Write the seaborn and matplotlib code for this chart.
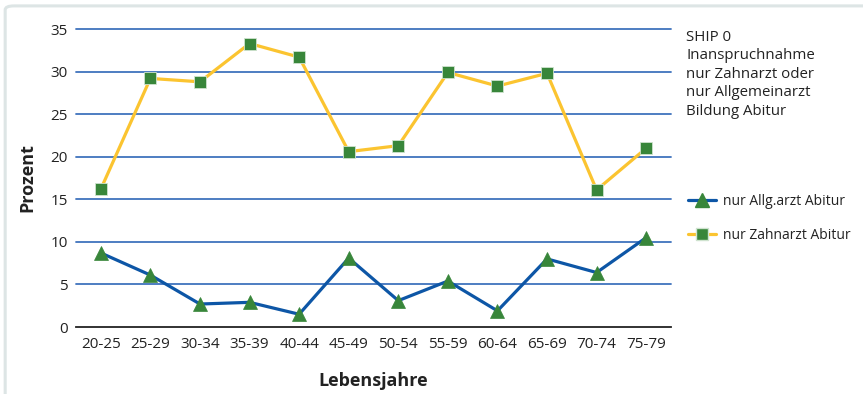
import matplotlib
matplotlib.use("Agg")
import matplotlib.pyplot as plt
import seaborn as sns
import pandas as pd
from matplotlib.lines import Line2D
from matplotlib.patches import FancyBboxPatch
from matplotlib.ticker import FixedLocator

age_groups = ["20-25", "25-29", "30-34", "35-39", "40-44", "45-49",
              "50-54", "55-59", "60-64", "65-69", "70-74", "75-79"]
allg_abitur = [8.7, 6.1, 2.7, 2.9, 1.5, 8.1, 3.1, 5.4, 1.9, 8.0, 6.4, 10.5]
zahn_abitur = [16.2, 29.2, 28.8, 33.3, 31.7, 20.6, 21.3, 29.9, 28.3, 29.8, 16.1, 21.0]
y_ticks = [0, 5, 10, 15, 20, 25, 30, 35]

sns.set_style("white")
plt.rcParams["font.family"] = ["Open Sans", "DejaVu Sans"]

BLUE = "#0d56a6"
YELLOW = "#fbc430"
GREEN = "#38863a"
GRID = "#3f73bd"
TEXT = "#222222"

fig = plt.figure(figsize=(8.63, 3.94), dpi=100)
ax = fig.add_axes([0.0881, 0.170, 0.6894, 0.7563])

df = pd.DataFrame({"age": list(range(len(age_groups))) * 2,
                   "value": allg_abitur + zahn_abitur,
                   "series": ["nur Allg.arzt Abitur"] * 12 + ["nur Zahnarzt Abitur"] * 12})

sns.lineplot(data=df[df.series == "nur Allg.arzt Abitur"], x="age", y="value",
             color=BLUE, linewidth=2.3, marker="^", markersize=9.5,
             markerfacecolor=GREEN, markeredgecolor=GREEN, markeredgewidth=0.5,
             ax=ax, legend=False, zorder=4)
sns.lineplot(data=df[df.series == "nur Zahnarzt Abitur"], x="age", y="value",
             color=YELLOW, linewidth=2.3, marker="s", markersize=9,
             markerfacecolor=GREEN, markeredgecolor="#cfe3cf", markeredgewidth=0.6,
             ax=ax, legend=False, zorder=4)

ax.set_xlim(-0.5, len(age_groups) - 0.5)
ax.set_ylim(0, 35)
ax.set_yticks(y_ticks)
ax.set_xticks(range(len(age_groups)))
ax.set_xticklabels(age_groups)
ax.xaxis.set_minor_locator(FixedLocator([i - 0.5 for i in range(len(age_groups) + 1)]))

for v in y_ticks[1:]:
    ax.axhline(v, color=GRID, linewidth=1.3, zorder=1, clip_on=False)

for s in ["top", "right", "left"]:
    ax.spines[s].set_visible(False)
ax.spines["bottom"].set_color("#222222")
ax.spines["bottom"].set_linewidth(1.3)

ax.tick_params(axis="x", which="major", length=0, pad=7, labelsize=11, labelcolor=TEXT)
ax.tick_params(axis="x", which="minor", length=5, width=1.2, color="#222222", direction="out")
ax.tick_params(axis="y", length=0, pad=6, labelsize=11, labelcolor=TEXT)

ax.set_xlabel("Lebensjahre", fontsize=13, fontweight="bold", color=TEXT)
ax.set_ylabel("Prozent", fontsize=13, fontweight="bold", color=TEXT)
ax.xaxis.set_label_coords(0.5, -0.15)
ax.yaxis.set_label_coords(-0.066, 0.5)

# Title block at the right
fig.text(0.795, 0.925,
         "SHIP 0\nInanspruchnahme\nnur Zahnarzt oder\nnur Allgemeinarzt\nBildung Abitur",
         fontsize=10.8, color=TEXT, va="top", ha="left", linespacing=1.33)

handles = [
    Line2D([], [], color=BLUE, linewidth=2.3, marker="^", markersize=9.5,
           markerfacecolor=GREEN, markeredgecolor=GREEN),
    Line2D([], [], color=YELLOW, linewidth=2.3, marker="s", markersize=9,
           markerfacecolor=GREEN, markeredgecolor="#cfe3cf"),
]
fig.legend(handles, ["nur Allg.arzt Abitur", "nur Zahnarzt Abitur"],
           loc="upper left", bbox_to_anchor=(0.783, 0.54), frameon=False,
           fontsize=10.0, labelcolor=TEXT, handlelength=2.0, handletextpad=0.5,
           labelspacing=1.4)

# light outer frame
frame = FancyBboxPatch((0.006, -0.05), 1.5, 1.035, boxstyle="round,pad=0,rounding_size=0.01",
                       transform=fig.transFigure, facecolor="none",
                       edgecolor="#dde5e5", linewidth=2.2, zorder=0)
fig.patches.append(frame)

fig.savefig("out.png", dpi=100)
